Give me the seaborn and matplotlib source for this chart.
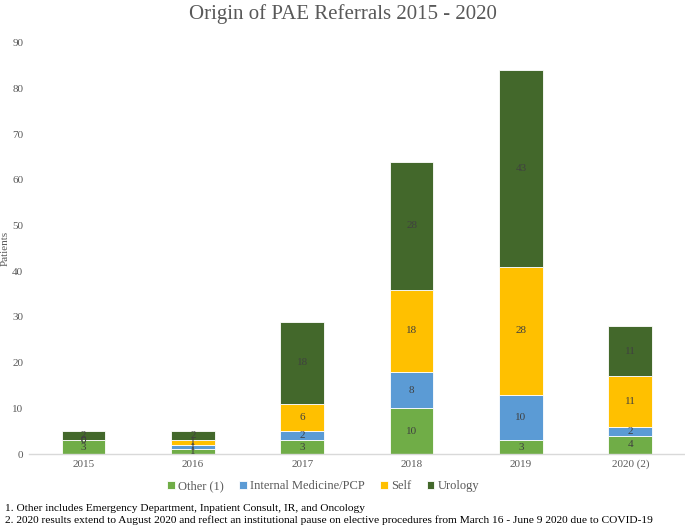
import numpy as np
import pandas as pd
import seaborn as sns
import matplotlib.pyplot as plt

years = ['2015', '2016', '2017', '2018', '2019', '2020 (2)']
other = [3, 1, 3, 10, 3, 4]
internal_med = [0, 1, 2, 8, 10, 2]
self_ref = [0, 1, 6, 18, 28, 11]
urology = [2, 2, 18, 28, 43, 11]

series_names = ['Other (1)', 'Internal Medicine/PCP', 'Self', 'Urology']
series_vals = [other, internal_med, self_ref, urology]
colors = ['#70AD47', '#5B9BD5', '#FFC000', '#43682B']

sns.set_style('white')
plt.rcParams['font.family'] = ['Liberation Serif', 'DejaVu Serif']

fig = plt.figure(figsize=(6.85, 5.27), dpi=100)
ax = fig.add_axes([0.042, 0.1385, 0.958, 0.78])

# stacked bars, one series at a time
bottom = np.zeros(len(years))
for name, vals, c in zip(series_names, series_vals, colors):
    sns.barplot(x=years, y=vals, bottom=bottom, color=c, width=0.4, saturation=1,
                label=name, edgecolor='white', linewidth=0.6, ax=ax)
    bottom = bottom + np.array(vals)

for cont in ax.containers:
    ax.bar_label(cont, label_type='center', fontsize=8, color='#404040')

ax.set_ylim(0, 90)
ax.set_yticks(range(0, 91, 10))
ax.set_xlim(-0.5, len(years) - 0.5)
ax.tick_params(axis='both', labelsize=8, colors='#595959', length=0, pad=4)
for s in ['top', 'right', 'left']:
    ax.spines[s].set_visible(False)
ax.spines['bottom'].set_color('#D9D9D9')
ax.spines['bottom'].set_linewidth(1)
ax.set_ylabel('Patients', fontsize=8, color='#595959', labelpad=2)
ax.set_xlabel('')

fig.suptitle('Origin of PAE Referrals 2015 - 2020', fontsize=15, color='#595959', y=0.993)

ax.legend(loc='center', bbox_to_anchor=(0.472, 0.077), bbox_transform=fig.transFigure,
          ncol=4, frameon=False, fontsize=9, handlelength=0.6, handleheight=0.6,
          handletextpad=0.3, columnspacing=1.2, labelcolor='#595959')

fig.text(0.008, 0.036, '1. Other includes Emergency Department, Inpatient Consult, IR, and Oncology',
         fontsize=8.2, color='black', va='center')
fig.text(0.008, 0.013, '2. 2020 results extend to August 2020 and reflect an institutional pause on elective procedures from March 16 - June 9 2020 due to COVID-19',
         fontsize=8.2, color='black', va='center')

fig.savefig('out.png', dpi=100)
